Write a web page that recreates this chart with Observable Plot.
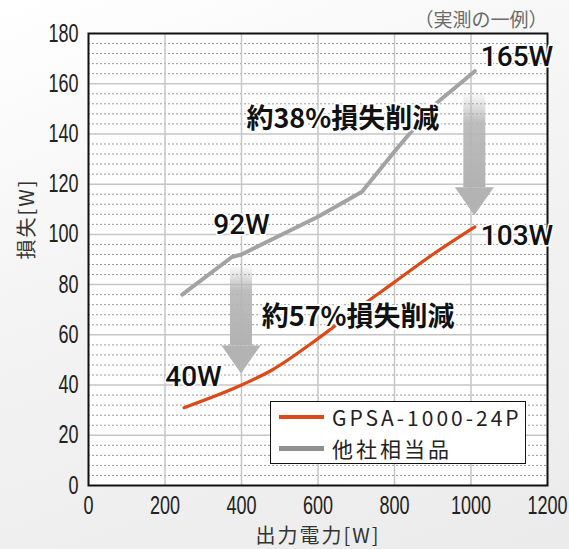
<!DOCTYPE html>
<html>
<head>
<meta charset="utf-8">
<script src="https://cdn.jsdelivr.net/npm/d3@7"></script>
<script src="https://cdn.jsdelivr.net/npm/@observablehq/plot@0.6"></script>
<style>
  body { margin: 0; }
  #wrap {
    position: relative; width: 569px; height: 549px; overflow: hidden;
    background: linear-gradient(160deg, #ffffff 0%, #f3f3f3 45%, #ebebeb 100%);
  }
  .legend {
    position: absolute; left: 270px; top: 401px; width: 254px; height: 61px;
    background: #fff; border: 1.5px solid #111;
    font-family: "Noto Sans CJK JP", sans-serif; font-size: 21px; color: #222;
    letter-spacing: 3px;
  }
  .legend .row { position: absolute; left: 8px; height: 30px; display: flex; align-items: center; white-space: nowrap; }
  .legend .swatch { width: 45px; margin-right: 8px; }
</style>
</head>
<body>
<div id="wrap"></div>
<script>
// Power loss versus output power, GPSA-1000-24P against an equivalent competitor unit
const seriesNames = ["GPSA-1000-24P", "他社相当品"];
const seriesColors = ["#dd4a18", "#a3a3a3"];

const outputGpsa = [250, 400, 480, 600, 700, 800, 900, 1010];
const lossGpsa   = [31, 40, 46, 58.5, 70, 81, 92, 103];

const outputOther = [245, 375, 400, 600, 715, 800, 900, 1010];
const lossOther   = [76, 91, 92, 107, 117, 133, 151, 165];

// output powers at which the two units are compared
const compareAt = [400, 1010];

const xTicks = [0, 200, 400, 600, 800, 1000, 1200];
const yTicks = [0, 20, 40, 60, 80, 100, 120, 140, 160, 180];

const rows = (xs, ys, name) => xs.map((x, i) => ({output: x, loss: ys[i], series: name}));
const gpsaRows = rows(outputGpsa, lossGpsa, seriesNames[0]);
const otherRows = rows(outputOther, lossOther, seriesNames[1]);
const lossAt = (xs, ys, x) => ys[xs.indexOf(x)];

const comparisons = compareAt.map(x => {
  const before = lossAt(outputOther, lossOther, x);
  const after = lossAt(outputGpsa, lossGpsa, x);
  return {x, before, after, cut: Math.round((1 - after / before) * 100)};
});
const [low, high] = comparisons;

// grid lines: solid every 20 W, dashed every 4 W
const majorY = yTicks.filter(v => v > 0 && v < 180);
const minorY = d3.range(4, 180, 4).filter(v => v % 20 !== 0);
const innerX = xTicks.filter(v => v > 0 && v < 1200);

// gap (px) between the upper curve and the top of each arrow shaft
const shaftGap = {400: 13, 1010: 24};

function reductionArrows(index, {x, y}) {
  const g = d3.create("svg:g").attr("aria-label", "reduction arrows");
  const grad = g.append("defs").append("linearGradient")
    .attr("id", "shaftFade").attr("x1", 0).attr("y1", 0).attr("x2", 0).attr("y2", 1);
  grad.append("stop").attr("offset", "0%").attr("stop-color", "#b8b8b8").attr("stop-opacity", 0.1);
  grad.append("stop").attr("offset", "30%").attr("stop-color", "#b6b6b6").attr("stop-opacity", 0.9);
  grad.append("stop").attr("offset", "100%").attr("stop-color", "#b2b2b2").attr("stop-opacity", 1);
  for (const c of comparisons) {
    const cx = x(c.x);
    const top = y(c.before) + shaftGap[c.x];
    const tip = y(c.after) - 11;
    const headTop = tip - 28;
    g.append("rect").attr("x", cx - 11).attr("y", top).attr("width", 22)
      .attr("height", headTop - top).attr("fill", "url(#shaftFade)");
    g.append("path").attr("d", `M${cx - 19.5},${headTop}L${cx + 19.5},${headTop}L${cx},${tip}Z`)
      .attr("fill", "#b3b3b3");
  }
  return g.node();
}

const valueFont = {fontFamily: "Roboto, 'Liberation Sans', sans-serif", fontWeight: 500, fontSize: 28,
                   fill: "#111", stroke: "white", strokeWidth: 3};
const noteFont = {fontFamily: "'Noto Sans CJK JP', sans-serif", fontWeight: 700, fontSize: 27,
                  fill: "#111", stroke: "white", strokeWidth: 4};
const jpFont = {fontFamily: "'Noto Sans CJK JP', sans-serif", lineAnchor: "middle"};

const chart = Plot.plot({
  width: 569,
  height: 549,
  marginTop: 33,
  marginLeft: 88,
  marginRight: 22,
  marginBottom: 64,
  style: {background: "transparent"},
  x: {domain: [0, 1200], ticks: xTicks, tickFormat: d => String(d), tickSize: 0, tickPadding: 11, label: null},
  y: {domain: [0, 180], ticks: yTicks, tickFormat: d => String(d), tickSize: 0, tickPadding: 10, label: null},
  marks: [
    Plot.frame({fill: "white"}),
    Plot.ruleY(minorY, {stroke: "#9a9a9a", strokeWidth: 1, strokeDasharray: "2,2"}),
    Plot.ruleY(majorY, {stroke: "#c6c6c6", strokeWidth: 1.5}),
    Plot.ruleX(innerX, {stroke: "#c6c6c6", strokeWidth: 1.5}),
    Plot.frame({stroke: "#111", strokeWidth: 2}),
    reductionArrows,
    Plot.line(otherRows, {x: "output", y: "loss", stroke: seriesColors[1], strokeWidth: 4}),
    Plot.line(gpsaRows, {x: "output", y: "loss", stroke: seriesColors[0], strokeWidth: 3.2, curve: "monotone-x"}),
    // stated losses at the compared outputs
    Plot.text([low], {x: "x", y: "before", text: d => `${d.before}W`, dy: -29, ...valueFont}),
    Plot.text([low], {x: "x", y: "after", text: d => `${d.after}W`, dx: -48, dy: -8, ...valueFont}),
    Plot.text([high], {x: "x", y: "before", text: d => `${d.before}W`, textAnchor: "start", dx: 6, dy: -14, ...valueFont}),
    Plot.text([high], {x: "x", y: "after", text: d => `${d.after}W`, textAnchor: "start", dx: 6, dy: 9, ...valueFont}),
    // reduction notes
    Plot.text([high], {x: () => 665, y: () => 146, text: d => `約${d.cut}%損失削減`, ...noteFont}),
    Plot.text([low], {x: () => 705, y: () => 67, text: d => `約${d.cut}%損失削減`, ...noteFont}),
    // axis titles and note
    Plot.text(["出力電力[W]"], {text: d => d, frameAnchor: "bottom", dy: 51, fontSize: 20, fill: "#333", ...jpFont}),
    Plot.text(["損失[W]"], {text: d => d, frameAnchor: "left", dx: -61, rotate: -90, fontSize: 20, fill: "#333", ...jpFont}),
    Plot.text(["（実測の一例）"], {text: d => d, frameAnchor: "top-right", textAnchor: "end", dy: -13,
      fontSize: 19, fill: "#6a6a6a", ...jpFont})
  ]
});

// narrow tick numerals
d3.select(chart).selectAll('g[aria-label^="x-axis"] text, g[aria-label^="y-axis"] text').each(function () {
  const t = d3.select(this);
  t.attr("font-size", 25).attr("font-family", "'Liberation Sans', Arial, sans-serif").attr("fill", "#222");
  const tx = +t.attr("x") || 0, ty = +t.attr("y") || 0;
  const prev = t.attr("transform") || "";
  t.attr("transform", `${prev} translate(${tx},${ty}) scale(0.72,1) translate(${-tx},${-ty})`);
});

// letter spacing for the Japanese axis titles
d3.select(chart).selectAll("text").each(function () {
  const s = this.textContent;
  if (s === "出力電力[W]" || s === "損失[W]") this.setAttribute("letter-spacing", "2");
});

const wrap = document.getElementById("wrap");
wrap.appendChild(chart);

// legend box
const legend = document.createElement("div");
legend.className = "legend";
seriesNames.forEach((name, i) => {
  const row = document.createElement("div");
  row.className = "row";
  row.style.top = (i * 31) + "px";
  const sw = document.createElement("span");
  sw.className = "swatch";
  sw.style.borderTop = `${i === 0 ? 4 : 5}px solid ${i === 0 ? seriesColors[0] : "#8f8f8f"}`;
  const label = document.createElement("span");
  label.textContent = name;
  row.appendChild(sw);
  row.appendChild(label);
  legend.appendChild(row);
});
wrap.appendChild(legend);
</script>
</body>
</html>
